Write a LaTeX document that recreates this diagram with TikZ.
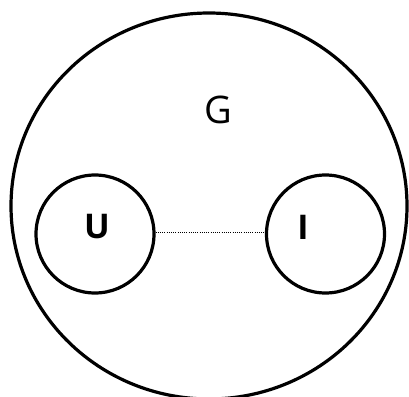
\documentclass[tikz,border=0pt]{standalone}
\usepackage{fontspec}
\setmainfont{Open Sans}
\begin{document}
\begin{tikzpicture}[x=1pt,y=-1pt,
  ring/.style={draw=black,line width=3.2pt},
  lbl/.style={font=\fontsize{34}{34}\selectfont\bfseries,inner sep=0pt}]
\useasboundingbox (0,0) rectangle (409,396);
\begin{scope}
\clip (0,0) rectangle (409,396);
\draw[ring] (209,206) ellipse [x radius=198, y radius=193];
\end{scope}
\node[inner sep=0pt,font=\fontsize{38}{38}\selectfont] (g) at (218,110) {G};
\node[ring,circle,minimum size=118pt,inner sep=0pt] (u) at (95,234) {};
\node[ring,circle,minimum size=118pt,inner sep=0pt] (i) at (325.5,234) {};
\node[lbl] (ut) at (97,227) {U};
\node[lbl] (it) at (303,227) {I};
\draw[line width=1pt,dash pattern=on 1pt off 1.2pt] (u.east |- 0,232) -- (i.west |- 0,232);
\end{tikzpicture}
\end{document}
